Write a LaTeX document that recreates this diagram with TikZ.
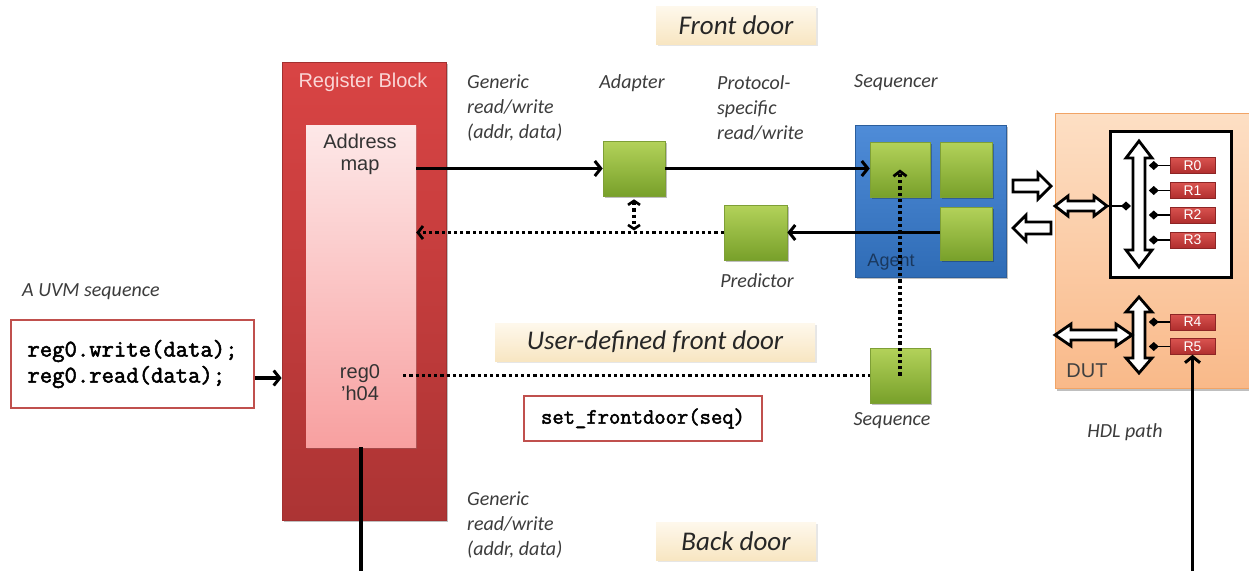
\documentclass[tikz,border=0pt]{standalone}
\usepackage{fontspec}
\setmainfont{Liberation Sans}
\newfontfamily\lblfont{Carlito}
\newfontfamily\codefont{Latin Modern Mono}[FakeBold=2.2]
\usetikzlibrary{arrows.meta,shadows,calc}

\definecolor{rbTop}{HTML}{D94444}
\definecolor{rbBot}{HTML}{AC3434}
\definecolor{rbEdge}{HTML}{A23030}
\definecolor{rbText}{HTML}{FAD6D6}
\definecolor{pinkTop}{HTML}{FDE8E8}
\definecolor{pinkBot}{HTML}{F8A0A0}
\definecolor{grTop}{HTML}{B3D25A}
\definecolor{grBot}{HTML}{78A02A}
\definecolor{grEdge}{HTML}{7E9F36}
\definecolor{agTop}{HTML}{4F8CD8}
\definecolor{agBot}{HTML}{2F6CB6}
\definecolor{agEdge}{HTML}{2B5E9C}
\definecolor{dutTop}{HTML}{FDDFC4}
\definecolor{dutBot}{HTML}{F9B989}
\definecolor{dutEdge}{HTML}{F1A466}
\definecolor{rTop}{HTML}{D9534F}
\definecolor{rBot}{HTML}{B02E2E}
\definecolor{codeRed}{HTML}{C0504D}
\definecolor{doorTop}{HTML}{FEF8EC}
\definecolor{doorBot}{HTML}{F8E6C2}
\definecolor{lblGray}{HTML}{3C3C3C}

% block arrows drawn as outlined polygons
\newcommand{\blkV}[6]{% x, top, bottom, shaft half, head half, head length
  \draw[blockar] (#1-#4,#2+#6) -- (#1-#5,#2+#6) -- (#1,#2) -- (#1+#5,#2+#6) -- (#1+#4,#2+#6)
    -- (#1+#4,#3-#6) -- (#1+#5,#3-#6) -- (#1,#3) -- (#1-#5,#3-#6) -- (#1-#4,#3-#6) -- cycle;}
\newcommand{\blkH}[6]{% y, left, right, shaft half, head half, head length
  \draw[blockar] (#2+#6,#1-#4) -- (#2+#6,#1-#5) -- (#2,#1) -- (#2+#6,#1+#5) -- (#2+#6,#1+#4)
    -- (#3-#6,#1+#4) -- (#3-#6,#1+#5) -- (#3,#1) -- (#3-#6,#1-#5) -- (#3-#6,#1-#4) -- cycle;}
\newcommand{\blkR}[6]{% y, left, right (tip), shaft half, head half, head length
  \draw[blockar] (#2,#1-#4) -- (#3-#6,#1-#4) -- (#3-#6,#1-#5) -- (#3,#1) -- (#3-#6,#1+#5)
    -- (#3-#6,#1+#4) -- (#2,#1+#4) -- cycle;}
\newcommand{\blkL}[6]{% y, left (tip), right, shaft half, head half, head length
  \draw[blockar] (#3,#1-#4) -- (#2+#6,#1-#4) -- (#2+#6,#1-#5) -- (#2,#1) -- (#2+#6,#1+#5)
    -- (#2+#6,#1+#4) -- (#3,#1+#4) -- cycle;}

\begin{document}
\begin{tikzpicture}[x=1pt,y=-1pt,
  every node/.style={inner sep=0pt},
  softshadow/.style={drop shadow={shadow xshift=1.5pt,shadow yshift=-2pt,opacity=0.25,fill=black}},
  regblock/.style={draw=rbEdge,line width=0.8pt,top color=rbTop,bottom color=rbBot,softshadow},
  mapbox/.style={top color=pinkTop,bottom color=pinkBot,draw=none,drop shadow={shadow xshift=1pt,shadow yshift=-1.5pt,opacity=0.25}},
  gbox/.style={draw=grEdge,line width=0.6pt,top color=grTop,bottom color=grBot,softshadow},
  agentbox/.style={draw=agEdge,line width=0.8pt,top color=agTop,bottom color=agBot,softshadow},
  dutbox/.style={draw=dutEdge,line width=0.8pt,top color=dutTop,bottom color=dutBot,softshadow},
  rbox/.style={draw=rBot!80!black,line width=0.5pt,top color=rTop,bottom color=rBot,text=white,
    minimum width=45pt,minimum height=16pt,font=\fontsize{14}{14}\selectfont},
  lbl/.style={font=\lblfont\itshape\fontsize{20}{25}\selectfont,text=lblGray,align=left},
  door/.style={font=\lblfont\itshape\fontsize{27}{30}\selectfont,text=black!85,
    top color=doorTop,bottom color=doorBot,minimum height=38pt,
    drop shadow={shadow xshift=1.5pt,shadow yshift=-2pt,opacity=0.2}},
  codebox/.style={draw=codeRed,line width=2.4pt,fill=white,align=left,
    font=\codefont\fontsize{24}{26}\selectfont},
  boxtext/.style={font=\fontsize{20}{22}\selectfont,align=center},
  conn/.style={line width=3.2pt,-{Straight Barb[length=6pt,width=15pt,line width=3pt]}},
  plain/.style={line width=3.2pt},
  dots/.style={line width=3.2pt,dash pattern=on 3.2pt off 3pt},
  dotconn/.style={dots,-{Straight Barb[length=5pt,width=13pt,line width=2.8pt]}},
  dotboth/.style={dots,{Straight Barb[length=4pt,width=12pt,line width=2.6pt]}-{Straight Barb[length=4pt,width=12pt,line width=2.6pt]}},
  blockar/.style={draw=black,line width=2.8pt,fill=white,line join=miter},
  dia/.style={line width=1.8pt,{Diamond[length=10pt,width=9pt]}-}
]
\useasboundingbox (0,0) rectangle (1249,571);

% ---------------- register block ----------------
\node[regblock,minimum width=164pt,minimum height=458pt] (rb) at (364,291) {};
\node[mapbox,minimum width=110pt,minimum height=322pt] (am) at (361,286) {};
\node[font=\fontsize{20}{22}\selectfont,text=rbText] (rbtitle) at (363,82) {Register Block};
\node[boxtext,text=black!80] (amtext) at (360,154) {Address\\map};
\node[boxtext,text=black!80] (reg0) at (360,383) {reg0\\'h04};

% ---------------- labels ----------------
\node[lbl,anchor=west] (lgen) at (467,108) {Generic\\read/write\\(addr, data)};
\node[lbl,anchor=west] (lproto) at (717,108) {Protocol-\\specific\\read/write};
\node[lbl] (ladapter) at (632,83) {Adapter};
\node[lbl] (lseqr) at (896,83) {Sequencer};
\node[lbl] (lpred) at (757,281) {Predictor};
\node[lbl] (lseq) at (892,421) {Sequence};
\node[lbl,anchor=west] (luvm) at (22,292) {A UVM sequence};
\node[lbl] (lhdl) at (1125,432) {HDL path};
\node[lbl,anchor=west] (lgen2) at (467,525) {Generic\\read/write\\(addr, data)};

% ---------------- door captions ----------------
\node[door,minimum width=160pt] (front) at (736,25) {Front door};
\node[door,minimum width=320pt] (userfront) at (655,342) {User-defined front door};
\node[door,minimum width=160pt] (back) at (736,541) {Back door};

% ---------------- code boxes ----------------
\node[codebox,minimum width=243pt,minimum height=88pt] (uvm) at (132.5,364) {reg0.write(data);\\reg0.read(data);};
\node[codebox,minimum width=238pt,minimum height=45pt,font=\codefont\fontsize{22}{24}\selectfont] (setfd) at (643,418.5) {set\_frontdoor(seq)};

% ---------------- adapter, predictor, agent ----------------
\node[gbox,minimum width=62pt,minimum height=55pt] (adapter) at (634,168.5) {};
\node[gbox,minimum width=63pt,minimum height=55pt] (pred) at (755.5,232.5) {};
\node[agentbox,minimum width=151pt,minimum height=152pt] (agent) at (930.5,201) {};
\node[gbox,minimum width=60pt,minimum height=55pt] (sq1) at (900,169.5) {};
\node[gbox,minimum width=52pt,minimum height=55pt] (g2) at (966,169.5) {};
\node[gbox,minimum width=52pt,minimum height=53pt] (g3) at (966,233.5) {};
\node[font=\fontsize{18}{18}\selectfont,text=agEdge!60!black] (agtext) at (891,262) {Agent};
\node[gbox,minimum width=60pt,minimum height=55pt] (seq) at (900,375.5) {};

% ---------------- DUT ----------------
\node[dutbox,minimum width=194pt,minimum height=275pt] (dut) at (1152,251) {};
\node[draw=black,line width=3pt,fill=white,minimum width=121pt,minimum height=146pt] (regs) at (1171,204) {};
\node[font=\fontsize{20}{20}\selectfont,text=black!75] (duttext) at (1087,371) {DUT};
\node[rbox] (r0) at (1192.5,165.5) {R0};
\node[rbox] (r1) at (1192.5,190.5) {R1};
\node[rbox] (r2) at (1192.5,215) {R2};
\node[rbox] (r3) at (1192.5,240) {R3};
\node[rbox] (r4) at (1192.5,322) {R4};
\node[rbox] (r5) at (1192.5,346.5) {R5};

% bus arrows inside the DUT
\blkV{1139}{141}{267}{6}{13}{17}
\blkV{1139}{297}{373}{6}{13}{15}
\blkH{206}{1055}{1107}{5}{10}{13}
\blkH{335}{1055}{1132}{5}{11}{16}
\foreach \r in {r0,r1,r2,r3,r4,r5}
  \draw[dia] ([xshift=-21pt]\r.west) -- (\r.west);
\coordinate (busin) at (1108,206);
\coordinate (busjoin) at (1131,206);
\draw[line width=1.8pt,-{Diamond[length=10pt,width=9pt]}] (busin) -- (busjoin);

% agent <-> DUT block arrows
\blkR{186}{1013}{1051}{6}{13}{13}
\blkL{228}{1013}{1051}{6}{13}{13}

% ---------------- connectors ----------------
\draw[conn] (am.east |- adapter.west) -- (adapter.west);
\draw[conn] (adapter.east) -- (adapter.east -| sq1.west);
\draw[conn] (g3.west |- pred.east) -- (pred.east);
\draw[dotconn] (pred.west) -- (pred.west -| am.east);
\draw[dotboth,shorten <=3pt,shorten >=2pt] (adapter.south) -- (adapter.south |- pred.west);
\draw[dots] ([xshift=-13pt]am.east |- seq.west) -- (seq.west);
\draw[dotconn] (seq.center) -- (sq1.center);
\draw[conn] ([yshift=-14pt]uvm.east) -- ([yshift=-14pt]uvm.east -| rb.west);

\coordinate (bdleft) at (362,571);
\coordinate (bdright) at (1193,571);
\draw[plain] (am.south) -- (am.south |- bdleft);
\draw[conn] (r5.south |- bdright) -- (r5.south);
\end{tikzpicture}
\end{document}
